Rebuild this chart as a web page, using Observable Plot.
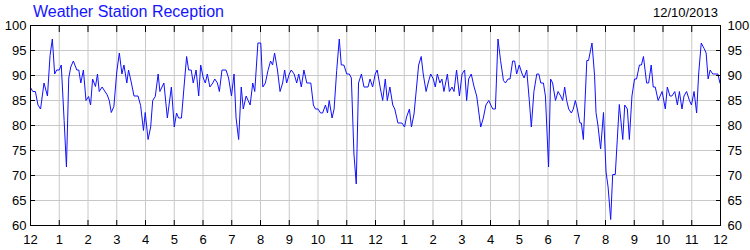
<!DOCTYPE html>
<html><head><meta charset="utf-8">
<script src="https://cdn.jsdelivr.net/npm/d3@7"></script>
<script src="https://cdn.jsdelivr.net/npm/@observablehq/plot@0.6"></script>
<style>
body{margin:0;background:#fff;}
#wrap{position:relative;width:750px;height:250px;}
#wrap svg{display:block;}
#title{position:absolute;left:33px;top:4px;font-family:"Liberation Sans",Arial,sans-serif;font-size:16px;line-height:16px;color:#1414ff;white-space:nowrap;}
#date{position:absolute;right:32px;top:6px;font-family:"Liberation Sans",Arial,sans-serif;font-size:13px;line-height:13px;color:#000;white-space:nowrap;}
</style></head><body>
<div id="wrap"><div id="title">Weather Station Reception</div><div id="date">12/10/2013</div></div>
<script>
const titleText = "Weather Station Reception";
const dateText = "12/10/2013";
const monthLabels = ["12","1","2","3","4","5","6","7","8","9","10","11","12","1","2","3","4","5","6","7","8","9","10","11","12"];
const yTicks = [60,65,70,75,80,85,90,95,100];
// position in months since the first December tick
const months = [
0.01,0.08,0.17,0.26,0.35,0.47,0.59,0.68,0.76,0.84,0.91,1.00,1.07,1.17,1.25,1.33,1.40,1.49,1.61,1.68,
1.75,1.84,1.93,2.02,2.09,2.16,2.26,2.33,2.39,2.49,2.58,2.67,2.74,2.81,2.90,3.00,3.09,3.18,3.25,3.35,
3.41,3.51,3.60,3.74,3.83,3.93,3.99,4.09,4.18,4.25,4.34,4.44,4.50,4.64,4.76,
4.90,5.00,5.08,5.15,5.25,5.34,5.43,5.50,5.59,5.66,5.76,5.85,5.92,6.01,6.08,6.15,6.24,6.34,6.41,6.50,
6.57,6.66,6.80,6.89,6.99,7.08,7.15,7.24,7.33,7.40,7.50,7.57,7.64,7.73,7.80,7.91,8.01,8.08,8.17,8.26,
8.35,8.42,8.49,8.59,8.68,8.77,8.84,8.91,9.00,9.07,9.17,9.26,9.33,9.42,9.51,
9.61,9.75,9.84,9.91,10.00,10.09,10.16,10.26,10.33,10.39,10.49,10.56,10.65,10.74,10.81,10.90,11.00,11.09,11.16,11.25,
11.33,11.41,11.51,11.60,11.74,11.81,11.90,11.99,12.06,12.16,12.25,12.34,12.41,12.50,12.60,12.67,12.78,12.92,13.01,13.08,
13.18,13.25,13.34,13.50,13.59,13.66,13.76,13.83,13.92,14.01,14.08,14.15,14.24,14.31,14.38,
14.50,14.57,14.66,14.73,14.82,14.92,15.01,15.10,15.17,15.24,15.33,15.43,15.52,15.66,15.75,15.84,15.94,16.01,16.08,16.17,
16.26,16.35,16.45,16.52,16.61,16.68,16.77,16.84,16.91,17.00,17.10,17.17,17.26,17.35,17.42,17.51,17.61,17.68,17.75,17.84,
17.91,18.02,18.09,18.16,18.26,18.35,18.44,18.51,18.58,18.65,18.72,18.81,18.88,18.95,19.02,19.11,
19.16,19.23,19.35,19.41,19.53,19.62,19.67,19.74,19.83,19.93,20.02,20.09,20.18,20.25,20.34,20.48,20.60,20.67,20.76,20.83,
20.92,21.01,21.08,21.18,21.25,21.32,21.43,21.50,21.59,21.66,21.73,21.83,21.97,22.08,22.15,22.24,22.31,22.41,22.50,22.57,
22.66,22.73,22.82,22.92,22.99,23.08,23.17,23.24,23.33,23.43,23.50,23.57,23.64,23.73,23.82,23.91,23.98
];
const reception = [
87.5,86.8,86.8,84.1,83.3,88.5,85.9,94,97.3,90.3,91.1,91.1,92.1,81,71.7,89.5,91.7,92.9,91.1,91.1,
88.5,91.1,85,85.8,84.1,89.3,87.8,90.3,86.8,87.7,86.9,86.1,85,82.6,83.8,90.7,94.5,90.3,92.1,88.5,
91.1,88.5,85.9,85.9,84,79,82.6,77.2,79.7,85,85.8,90.3,86.8,88.5,81.5,
87.7,79.7,82.5,81.5,81.5,87.7,93.8,91.1,91.1,88.5,91.1,85.9,92.1,89.5,88.5,90.3,87.7,88.5,89.3,88.5,
86.8,91.1,91.1,89.5,85.9,90.3,81.5,77.2,87.7,83.3,85.9,85,84.1,88.5,86.8,96.5,96.5,87.7,88.5,91,
92.9,92.1,94.5,91.1,86.8,88.5,91.1,88.5,90.3,91.1,90.3,88.5,90.3,87.7,91.1,
88.5,88.5,84.1,83.3,83.3,82.5,82.5,84.1,82.5,85,81.5,83.3,91,97.3,92.1,92.1,90.3,90.3,89.5,74.3,
68.3,88.5,90.3,87.7,87.7,89.3,87.7,90.3,91.1,87.7,85,89.3,85,87.7,84.1,83.3,80.5,80.5,79.7,81.7,
83.3,79.7,82.3,92.1,93.8,90.3,86.8,88.5,90.3,89.3,87.7,90.3,88.5,89.3,86.8,
90.3,86.8,87.7,86.8,91.1,85.9,90.3,91.1,85,89.3,90.3,87.7,85.9,79.7,81.5,84.1,85,84.1,83.3,83.3,
97.3,93,89,88.5,89.3,89.3,92.9,92.9,90.3,92.1,90.3,89.5,91.1,85,79.7,86.8,90.3,90.3,88.5,88.5,
85.9,71.7,89.3,88.5,85,86.8,85.9,85,87.7,85,83.3,82.5,83.3,85,83.3,80.5,
80.5,77.2,93,93,96.5,90,82.6,79.9,75.3,82.6,70.7,67.7,61.2,70.2,70.2,84.2,77.2,84.1,83.3,77.2,
85.9,89.3,89.3,92.1,92.1,93.8,88.5,88.5,92.1,87.7,87.7,85,86.8,83.3,87.7,85.9,85.9,86.8,84.1,86.8,
83.3,85.9,86.8,85,84.1,86.8,82.5,90.3,96.5,95.4,94.5,89.3,91.1,90.3,90.3,90.3,88.5
];

const data = months.map((m, i) => ({m, v: reception[i]}));
const xTicks = d3.range(monthLabels.length);
const gridColor = "#c8c8c8";

const chart = Plot.plot({
  width: 750,
  height: 250,
  marginLeft: 30,
  marginRight: 30,
  marginTop: 25,
  marginBottom: 25,
  style: {fontFamily: "'Liberation Sans', Arial, sans-serif", fontSize: "13px", color: "#000", background: "transparent"},
  x: {domain: [0, monthLabels.length - 1], label: null},
  y: {domain: [60, 100], label: null},
  marks: [
    Plot.gridX(xTicks, {stroke: gridColor, strokeOpacity: 1}),
    Plot.gridY(yTicks, {stroke: gridColor, strokeOpacity: 1}),
    Plot.line(data, {x: "m", y: "v", stroke: "#1010ff", strokeWidth: 1}),
    Plot.frame({stroke: "#000", strokeWidth: 1}),
    Plot.axisX(xTicks, {anchor: "bottom", label: null, tickSize: -5, tickFormat: () => "", stroke: "#000"}),
    Plot.axisX(xTicks, {anchor: "top", label: null, tickSize: -6, tickFormat: () => "", stroke: "#000"}),
    Plot.axisX(xTicks, {anchor: "bottom", label: null, tickSize: 0, tickPadding: 9, tickFormat: d => monthLabels[d], fill: "#000"}),
    Plot.axisY(yTicks, {anchor: "left", label: null, tickSize: -5, tickFormat: () => "", stroke: "#000"}),
    Plot.axisY(yTicks, {anchor: "right", label: null, tickSize: -5, tickFormat: () => "", stroke: "#000"}),
    Plot.axisY(yTicks, {anchor: "left", label: null, tickSize: 0, tickPadding: 4, fill: "#000"}),
    Plot.axisY(yTicks, {anchor: "right", label: null, tickSize: 0, tickPadding: 7, fill: "#000"})
  ]
});
document.getElementById("wrap").prepend(chart);
</script>
</body></html>
